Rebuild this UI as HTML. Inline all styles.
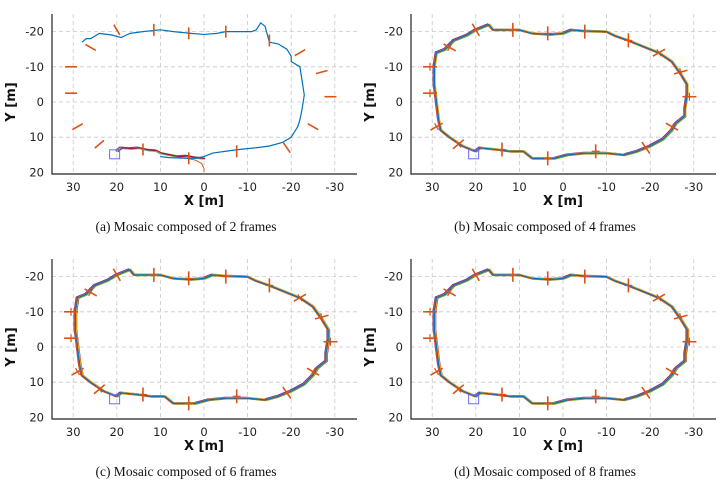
<!DOCTYPE html>
<html><head><meta charset="utf-8">
<style>
body{margin:0;background:#fff;}
svg{display:block;}
.tk{font-family:"DejaVu Sans","Liberation Sans",sans-serif;font-size:11.5px;fill:#222;}
.al{font-family:"DejaVu Sans","Liberation Sans",sans-serif;font-size:13px;font-weight:bold;fill:#111;}
.cap{font-family:"Liberation Serif",serif;font-size:13.5px;fill:#111;}
</style></head>
<body>
<svg id="fig" width="728" height="484" viewBox="0 0 728 484"></svg>
<script>
// ---- data ----
const xTicks = [30, 20, 10, 0, -10, -20, -30];
const yTicks = [-20, -10, 0, 10, 20];
const panelCaptions = ["(a)  Mosaic composed of 2 frames", "(b)  Mosaic composed of 4 frames", "(c)  Mosaic composed of 6 frames", "(d)  Mosaic composed of 8 frames"];
const loopX = [20,23,26,28,28.5,29,29.5,29.5,29,27,25,22,20,17,16,14,10,7,3,0,-2,-5,-10,-12,-15,-18,-22,-25,-27,-28.5,-28.5,-28,-28,-26,-25,-23,-20,-17,-14,-10,-5,-1,2,4,7,8,9,12,15,19,20];
const loopY = [14,12.5,10,8,5,0,-5,-10,-14,-15,-17.5,-19,-20.5,-22,-20.5,-20.5,-20.5,-19.5,-19.2,-19.5,-20.5,-20.2,-20,-18.8,-17.5,-16,-14,-11.5,-8,-5,-2,2,4,6,8,10.5,12.5,14,15,14.5,14.5,15,16,16,16,15,14,14,13.5,13,14];
const seriesColors = ["#0072BD","#D95319","#EDB120","#7E2F8E","#77AC30","#4DBEEE","#A2142F"];
const seriesDx = [0,0.2,-0.2,0.3,-0.15,0.1,-0.3];
const seriesDy = [0,0.15,-0.15,-0.2,0.25,0.1,0.05];
// panel (a) blue trajectory
const aBlueX = [28,27,26,24,21,19,17,14,10,7,3,0,-3,-5,-8,-11,-12,-13,-14,-15,-17,-19,-20,-20,-22,-22.5,-23,-22.5,-22,-21.5,-20,-18,-15,-12,-8,-5,-2,0,2,4,8,10];
const aBlueY = [-17,-18,-18,-19.5,-19,-18.3,-19.5,-20,-20.5,-20,-19.5,-19.2,-19.5,-20,-20,-20,-20.5,-22.5,-21.5,-17,-16.5,-15,-13,-11.5,-10,-6,-2,2,5,7,10,11.5,12.5,13,13.5,14,14.5,15.5,16,16,15.8,15.5];
const aBottomX = [20,19,17,15,13,11,10,8,6,4,2,0];
const aBottomY = [14,13,13.2,13,13.6,13.8,14.5,15,15.5,15.3,15.8,16];
const aTailX = [4,2,0.5,0,0];
const aTailY = [16,16.5,17.5,19,20];
const markX = [20,11.5,3.5,-5,-15,-22,-27,-29,-25,-19,-7.5,3.5,14,24,29,30.5,30.5,26];
const markY = [-20.5,-20.5,-19.5,-20,-17.5,-14,-8.5,-1.5,7,13,14,16,13.5,12,7,-2.5,-10,-15.5];
const markA = [60,90,90,90,90,-30,-15,0,30,55,90,90,90,-40,-30,0,0,30];

const NS="http://www.w3.org/2000/svg";
const svg=document.getElementById('fig');
function el(tag,attrs,parent){const e=document.createElementNS(NS,tag);for(const k in attrs)e.setAttribute(k,attrs[k]);(parent||svg).appendChild(e);return e;}

const panels=[{ox:0,oy:0,mode:'a'},{ox:359,oy:0,mode:'b'},{ox:0,oy:245,mode:'c'},{ox:359,oy:245,mode:'d'}];
const L=52,R=357,T=14,B=174;
function sx(v){return 204-v*4.36;}
function sy(v){return 102+v*3.52;}

panels.forEach((p,pi)=>{
  const g=el('g',{transform:`translate(${p.ox},${p.oy})`});
  
  
  xTicks.forEach(t=>{const l=el('line',{x1:sx(t),x2:sx(t),y1:T,y2:B,stroke:'#c8c8c8','stroke-width':0.8,'stroke-dasharray':'4,3'},g);
    
    const tx=el('text',{x:sx(t),y:B+17,'text-anchor':'middle',class:'tk'},g);tx.textContent=t;
    });
  yTicks.forEach(t=>{if(t!==20){const l=el('line',{x1:L,x2:R,y1:sy(t),y2:sy(t),stroke:'#c8c8c8','stroke-width':0.8,'stroke-dasharray':'4,3'},g);
    }
    const tx=el('text',{x:L-8,y:sy(t)+4,'text-anchor':'end',class:'tk'},g);tx.textContent=t;
    });
  const ax=el('path',{d:`M${L},${T} V${B} H${R}`,fill:'none',stroke:'#222','stroke-width':1.2},g);
  
  const xl=el('text',{x:204,y:B+31,'text-anchor':'middle',class:'al'},g);xl.textContent='X [m]';
  
  const yl=el('text',{x:0,y:0,'text-anchor':'middle',class:'al',transform:`translate(${L-37},${sy(0)}) rotate(-90)`},g);yl.textContent='Y [m]';
  
  const cap=el('text',{x:186,y:B+57,'text-anchor':'middle',class:'cap'},g);cap.textContent=panelCaptions[pi];
  

  function poly(xs,ys,dx,dy,col,w,name){
    const pts=xs.map((x,i)=>sx(x+dx)+','+sy(ys[i]+dy)).join(' ');
    const pl=el('polyline',{points:pts,fill:'none',stroke:col,'stroke-width':w,'stroke-linejoin':'round'},g);
    
  }
  if(p.mode==='a'){
    seriesColors.forEach((c,i)=>{if(i>0)poly(aBottomX,aBottomY,seriesDx[i],seriesDy[i],c,1,'trajectory-series');});
    poly(aTailX,aTailY,0,0,'#D95319',1,'trajectory-tail');
    poly(aBlueX,aBlueY,0,0,'#0072BD',1.2,'trajectory-main');
  } else {
    const n=p.mode==='b'?5:7;
    for(let i=n-1;i>=0;i--)poly(loopX,loopY,seriesDx[i],seriesDy[i],seriesColors[i],1.1,'trajectory-series');
  }
  const bx=el('rect',{x:sx(20.5)-5,y:sy(15)-5,width:10,height:9,fill:'none',stroke:'#6a6aff','stroke-width':1},g);
  
  markX.forEach((mx,i)=>{
    const cx=sx(mx),cy=sy(markY[i]),a=markA[i]*Math.PI/180;
    const len=p.mode==='a'?6:7;
    const m=el('line',{x1:cx-len*Math.cos(a),y1:cy-len*Math.sin(a),x2:cx+len*Math.cos(a),y2:cy+len*Math.sin(a),stroke:'#D95319','stroke-width':1.6},g);
    
    if(p.mode!=='a'){
      const b=a+Math.PI/2;
      const m2=el('line',{x1:cx-4*Math.cos(b),y1:cy-4*Math.sin(b),x2:cx+4*Math.cos(b),y2:cy+4*Math.sin(b),stroke:'#D95319','stroke-width':1.2},g);
      
    }
  });
});
</script>
</body></html>
